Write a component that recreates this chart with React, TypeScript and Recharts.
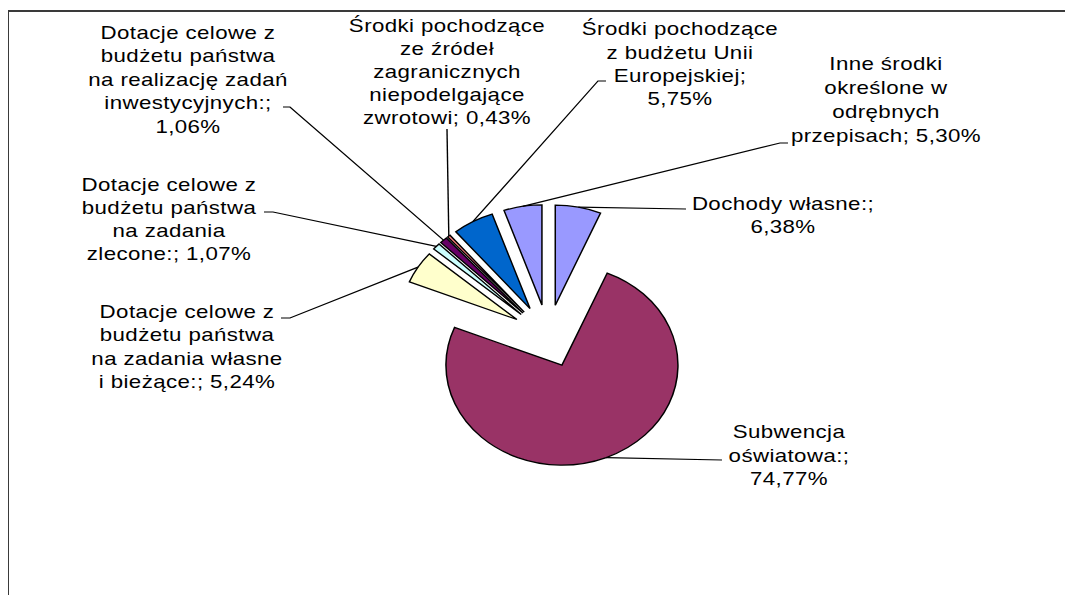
import React from 'react';
import { PieChart, Pie, Cell } from 'recharts';

// chart values
const categories = [
  'Dochody własne',
  'Subwencja oświatowa',
  'Dotacje celowe z budżetu państwa na zadania własne i bieżące',
  'Dotacje celowe z budżetu państwa na zadania zlecone',
  'Dotacje celowe z budżetu państwa na realizację zadań inwestycyjnych',
  'Środki pochodzące ze źródeł zagranicznych niepodelgające zwrotowi',
  'Środki pochodzące z budżetu Unii Europejskiej',
  'Inne środki określone w odrębnych przepisach',
];
const shares = [6.38, 74.77, 5.24, 1.07, 1.06, 0.43, 5.75, 5.3];
const colors = ['#9999FF', '#993366', '#FFFFCC', '#CCFFFF', '#660066', '#FF8080', '#0066CC', '#9999FF'];

// wrapped label text, {v} is replaced by the share
const labelLines = [
  ['Dochody własne:;', '{v}'],
  ['Subwencja', 'oświatowa:;', '{v}'],
  ['Dotacje celowe z', 'budżetu państwa', 'na zadania własne', 'i bieżące:; {v}'],
  ['Dotacje celowe z', 'budżetu państwa', 'na zadania', 'zlecone:; {v}'],
  ['Dotacje celowe z', 'budżetu państwa', 'na realizację zadań', 'inwestycyjnych:;', '{v}'],
  ['Środki pochodzące', 'ze źródeł', 'zagranicznych', 'niepodelgające', 'zwrotowi; {v}'],
  ['Środki pochodzące', 'z budżetu Unii', 'Europejskiej;', '{v}'],
  ['Inne środki', 'określone w', 'odrębnych', 'przepisach; {v}'],
];

const data = categories.map((name, i) => ({ name, value: shares[i] }));
const total = shares.reduce((a, b) => a + b, 0);

// layout (page pixels), the picture is stretched horizontally by S
const S = 1.16;
const ux = (x: number) => (x - 8) / S;
const uy = (y: number) => y - 8;
const CX = ux(548);
const CY = uy(336);
const R = 100;
const EXPLODE = 31.5;

const labelPos = [
  { x: 783, base: [210, 233], leader: [[686, 209]] },
  { x: 789, base: [438, 462, 485.5], leader: [[722, 460]] },
  { x: 187, base: [318, 341.5, 365, 388.5], leader: [[290, 318], [281, 318]] },
  { x: 169, base: [191.5, 214.5, 237.5, 260.5], leader: [[273, 212], [264, 212]] },
  { x: 188, base: [39, 62.5, 86, 109.5, 133], leader: [[290, 107], [283, 107]] },
  { x: 447, base: [32, 55, 78, 101, 124], leader: [[447, 129]] },
  { x: 680, base: [35, 58.5, 82, 105.5], leader: [[598, 81], [606, 81]] },
  { x: 886, base: [70, 94, 118, 142], leader: [[780, 143], [788, 143]] },
];

const fmt = (v: number) => v.toFixed(2).replace('.', ',') + '%';
const RAD = Math.PI / 180;

const renderLabel = (props: any) => {
  const { cx, cy, midAngle, outerRadius, index } = props;
  const pos = labelPos[index];
  const sx = cx + outerRadius * Math.cos(-midAngle * RAD);
  const sy = cy + outerRadius * Math.sin(-midAngle * RAD);
  const pts = [[sx, sy], ...pos.leader.map(([x, y]) => [ux(x), uy(y)])];
  return (
    <g>
      <polyline
        points={pts.map((p) => p.join(',')).join(' ')}
        fill="none"
        stroke="#000"
        strokeWidth={1.2}
      />
      {labelLines[index].map((line, j) => (
        <text
          key={j}
          x={ux(pos.x)}
          y={uy(pos.base[j])}
          textAnchor="middle"
          fill="#000"
          fontSize={19.2}
          letterSpacing={0.35}
          fontFamily="'Liberation Sans', Arial, sans-serif"
        >
          {line.replace('{v}', fmt(shares[index]))}
        </text>
      ))}
    </g>
  );
};

export default function App() {
  const W = 1065 / S;
  const H = 587;
  return (
    <div style={{ position: 'relative', width: 1065, height: H, overflow: 'hidden', background: '#fff' }}>
      <div
        style={{
          position: 'absolute',
          left: -1,
          top: 2,
          width: 1200,
          height: 800,
          borderTop: '2px solid #3a3a3a',
          borderLeft: '2px solid #3a3a3a',
        }}
      />
      <div style={{ position: 'absolute', left: 0, top: 0, transform: `scaleX(${S})`, transformOrigin: '0 0' }}>
        <PieChart width={W} height={H} margin={{ top: 0, right: 0, bottom: 0, left: 0 }}>
          {shares.map((_, k) => {
            const before = shares.slice(0, k).reduce((a, b) => a + b, 0);
            const mid = (90 - ((before + shares[k] / 2) / total) * 360) * RAD;
            return (
              <Pie
                key={k}
                data={data}
                dataKey="value"
                nameKey="name"
                cx={CX + EXPLODE * Math.cos(mid)}
                cy={CY - EXPLODE * Math.sin(mid)}
                outerRadius={R}
                startAngle={90}
                endAngle={-270}
                isAnimationActive={false}
                labelLine={false}
                label={(p: any) => (p.index === k ? renderLabel(p) : null)}
              >
                {data.map((d, i) => (
                  <Cell
                    key={`cell-${i}`}
                    fill={i === k ? colors[i] : 'none'}
                    stroke={i === k ? '#000' : 'none'}
                    strokeWidth={1.3}
                  />
                ))}
              </Pie>
            );
          })}
        </PieChart>
      </div>
    </div>
  );
}
